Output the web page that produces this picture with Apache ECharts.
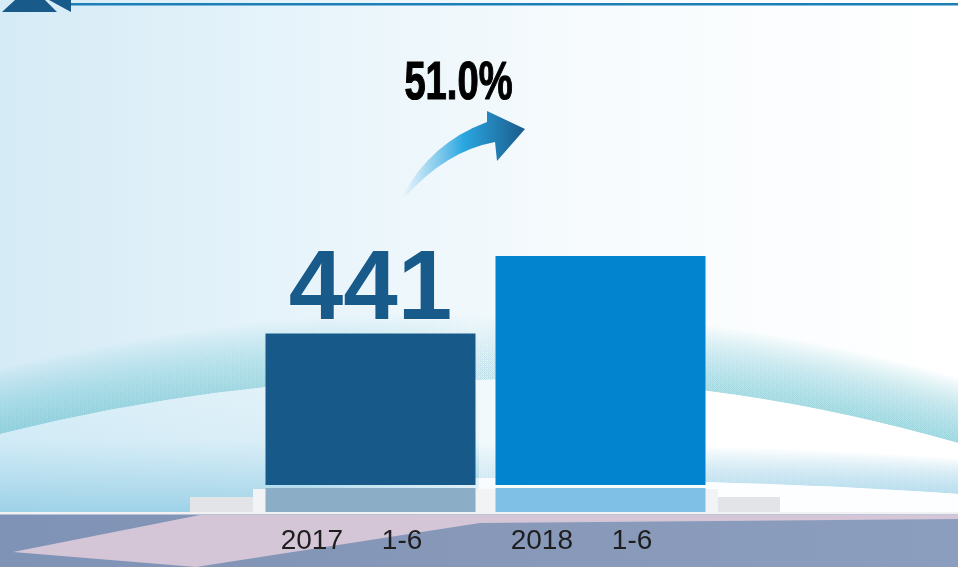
<!DOCTYPE html>
<html>
<head>
<meta charset="utf-8">
<script src="https://cdn.jsdelivr.net/npm/echarts@6.0.0/dist/echarts.min.js"></script>
<style>
  html, body { margin: 0; padding: 0; background: #fff; }
  #main { width: 958px; height: 567px; }
</style>
</head>
<body>
<div id="main"></div>
<script>
  // 数据
  var categories = ['2017     1-6', '2018     1-6'];
  var values = [441, 666];
  var barColors = ['#175a8a', '#0284cf'];
  var mirrorColors = ['#8badc6', '#7fc1e6'];
  var labelShown = [true, false];

  // 增长率，由两期数据算出
  var growth = ((values[1] / values[0] - 1) * 100).toFixed(1) + '%';

  // ---- 背景装饰的路径 ----
  function arc(dy) {
    return 'M0,' + (434 + dy) + ' Q250,' + (372 + dy) + ' 479,' + (380 + dy) + ' Q710,' + (372 + dy) + ' 958,' + (443 + dy);
  }
  function arcBand(d) {
    return arc(0) + ' L958,' + (443 - d) + ' Q710,' + (372 - d) + ' 479,' + (380 - d) + ' Q250,' + (372 - d) + ' 0,' + (434 - d) + ' Z';
  }
  function swoosh(dy) {
    return 'M300,' + (478 + dy) + ' Q700,' + (476 + dy) + ' 958,' + (494 + dy);
  }
  function swooshBand(d) {
    return swoosh(0) + ' L958,' + (494 - d) + ' Q700,' + (476 - d) + ' 300,' + (478 - d) + ' Z';
  }

  var paths = {
    lowerBand: arc(0) + ' L958,514 L0,514 Z',
    leftGlow: 'M0,434 Q250,372 479,380 L479,514 L0,514 Z',
    rightWhite: swoosh(0) + ' L958,512 L300,512 Z',
    arrow: 'M402,197 Q430,143 487,122 L487,111 L525,129 L497,161 L495,142 Q446,151 405,197 Z'
  };
  var tealLayers = [];
  var blueLayers = [];
  for (var k = 1; k <= 24; k++) {
    paths['teal' + k] = arcBand(k * 2.7);
    tealLayers.push('teal' + k);
  }
  for (var j = 1; j <= 14; j++) {
    paths['blue' + j] = swooshBand(j * 2.5);
    blueLayers.push('blue' + j);
  }
  Object.keys(paths).forEach(function (key) {
    echarts.graphic.registerShape(key, echarts.graphic.extendPath(paths[key], {}));
  });

  var chart = echarts.init(document.getElementById('main'));

  var barData = values.map(function (v, i) {
    return {
      value: v,
      itemStyle: { color: barColors[i] },
      label: { show: labelShown[i] }
    };
  });
  var mirrorData = values.map(function (v, i) {
    return {
      value: v,
      itemStyle: {
        color: new echarts.graphic.LinearGradient(0, 0, 0, 1, [
          { offset: 0, color: barColors[i] },
          { offset: 0.01, color: mirrorColors[i] },
          { offset: 1, color: mirrorColors[i] }
        ])
      }
    };
  });

  var bgElements = [
    // 背景
    {
      type: 'rect', z: -20, silent: true,
      shape: { x: 0, y: 0, width: 958, height: 514 },
      style: {
        fill: new echarts.graphic.LinearGradient(0, 0, 1, 0, [
          { offset: 0, color: '#d5ebf6' },
          { offset: 0.35, color: '#e9f5fb' },
          { offset: 0.62, color: '#f7fbfd' },
          { offset: 1, color: '#ffffff' }
        ])
      }
    }
  ];
  // 弧线上方的青色渐变
  tealLayers.forEach(function (name) {
    bgElements.push({
      type: name, z: -19, silent: true,
      style: {
        fill: new echarts.graphic.LinearGradient(0, 0, 1, 0, [
          { offset: 0, color: 'rgba(112,196,210,0.042)' },
          { offset: 0.3, color: 'rgba(112,196,210,0.03)' },
          { offset: 0.5, color: 'rgba(112,196,210,0.016)' },
          { offset: 0.72, color: 'rgba(112,196,210,0.034)' },
          { offset: 1, color: 'rgba(112,196,210,0.045)' }
        ])
      }
    });
  });
  bgElements.push(
    {
      type: 'lowerBand', z: -18, silent: true,
      style: {
        fill: new echarts.graphic.LinearGradient(0, 0, 1, 0, [
          { offset: 0, color: '#d8eef8' },
          { offset: 0.3, color: '#e3f2f9' },
          { offset: 0.7, color: '#ffffff' },
          { offset: 1, color: '#ffffff' }
        ])
      }
    },
    {
      type: 'leftGlow', z: -17, silent: true,
      style: {
        fill: new echarts.graphic.LinearGradient(0, 0, 0, 1, [
          { offset: 0, color: 'rgba(150,207,230,0)' },
          { offset: 0.45, color: 'rgba(150,207,230,0.1)' },
          { offset: 1, color: 'rgba(145,204,228,0.85)' }
        ])
      }
    }
  );
  blueLayers.forEach(function (name) {
    bgElements.push({
      type: name, z: -16, silent: true,
      style: {
        fill: new echarts.graphic.LinearGradient(0, 0, 1, 0, [
          { offset: 0, color: 'rgba(150,205,228,0)' },
          { offset: 0.55, color: 'rgba(150,205,228,0.05)' },
          { offset: 1, color: 'rgba(150,205,228,0.07)' }
        ])
      }
    });
  });
  bgElements.push(
    {
      type: 'rightWhite', z: -16, silent: true,
      style: {
        fill: new echarts.graphic.LinearGradient(0, 0, 1, 0, [
          { offset: 0, color: 'rgba(255,255,255,0)' },
          { offset: 0.5, color: 'rgba(253,254,255,1)' },
          { offset: 1, color: 'rgba(253,254,255,1)' }
        ])
      }
    },
    // 底座
    {
      type: 'rect', z: -15, silent: true,
      shape: { x: 253, y: 489, width: 465, height: 23 },
      style: { fill: '#f1f3f5' }
    },
    {
      type: 'rect', z: -15, silent: true,
      shape: { x: 190, y: 497, width: 63, height: 15 },
      style: { fill: '#e3e4e8' }
    },
    {
      type: 'rect', z: -15, silent: true,
      shape: { x: 718, y: 497, width: 62, height: 15 },
      style: { fill: '#e3e4e8' }
    },
    // 底部色带
    {
      type: 'rect', z: -14, silent: true,
      shape: { x: 0, y: 512, width: 958, height: 55 },
      style: {
        fill: new echarts.graphic.LinearGradient(0, 0, 1, 0, [
          { offset: 0, color: '#7f93b6' },
          { offset: 0.5, color: '#8798b9' },
          { offset: 1, color: '#8c9ebe' }
        ])
      }
    },
    {
      type: 'polygon', z: -13, silent: true,
      shape: { points: [[13, 552], [200, 515], [958, 515], [958, 519], [480, 523], [196, 567]] },
      style: { fill: '#d4c6d7' }
    },
    {
      type: 'rect', z: -13, silent: true,
      shape: { x: 0, y: 512, width: 958, height: 2.5 },
      style: { fill: '#f2f1f4' }
    },
    // 顶部装饰
    {
      type: 'rect', z: -10, silent: true,
      shape: { x: 70, y: 3, width: 888, height: 2.5 },
      style: { fill: '#1c7fb8' }
    },
    {
      type: 'polygon', z: -10, silent: true,
      shape: { points: [[2, 12], [57, 12], [45, 0], [15, 0]] },
      style: { fill: '#185b8b' }
    },
    {
      type: 'polygon', z: -10, silent: true,
      shape: { points: [[49, 0], [71, 0], [71, 12]] },
      style: { fill: '#185b8b' }
    },
    // 箭头
    {
      type: 'arrow', z: 5, silent: true,
      style: {
        fill: new echarts.graphic.LinearGradient(0, 0, 1, 0, [
          { offset: 0, color: 'rgba(70,175,228,0)' },
          { offset: 0.5, color: '#2ba7e0' },
          { offset: 1, color: '#1a5a8b' }
        ])
      }
    },
    // 增长率
    {
      type: 'text', z: 5, silent: true,
      x: 458.5, y: 84, scaleX: 0.72,
      style: {
        text: growth,
        fill: '#000000',
        stroke: '#000000',
        lineWidth: 1.2,
        font: 'bold 53px "Liberation Sans"',
        align: 'center',
        verticalAlign: 'middle'
      }
    }
  );

  chart.setOption({
    animation: false,
    grid: [
      { left: 255.5, width: 460, top: 100, bottom: 82 },
      { left: 255.5, width: 460, top: 488, height: 24 }
    ],
    xAxis: [
      {
        type: 'category',
        gridIndex: 0,
        data: categories,
        z: 10,
        axisLine: { show: false },
        axisTick: { show: false },
        axisLabel: {
          margin: 42,
          fontSize: 28,
          lineHeight: 28,
          color: '#1e1e1e',
          fontFamily: 'Liberation Sans',
          padding: [0, 38, 0, 0]
        }
      },
      { type: 'category', gridIndex: 1, data: categories, show: false }
    ],
    yAxis: [
      { type: 'value', gridIndex: 0, min: 0, max: 1120, show: false },
      // 倒影只显示底部一截
      { type: 'value', gridIndex: 1, min: 0, max: 70, inverse: true, show: false }
    ],
    series: [
      {
        type: 'bar',
        xAxisIndex: 0,
        yAxisIndex: 0,
        barWidth: 210,
        data: barData,
        label: {
          position: 'top',
          distance: 5,
          color: '#185b8b',
          fontFamily: 'Liberation Sans',
          fontWeight: 'bold',
          fontSize: 98,
          lineHeight: 72,
          textBorderColor: 'rgba(255,255,255,0.6)',
          textBorderWidth: 1
        }
      },
      {
        // 倒影
        type: 'bar',
        xAxisIndex: 1,
        yAxisIndex: 1,
        barWidth: 210,
        clip: true,
        silent: true,
        data: mirrorData
      }
    ],
    graphic: { elements: bgElements }
  });
</script>
</body>
</html>
